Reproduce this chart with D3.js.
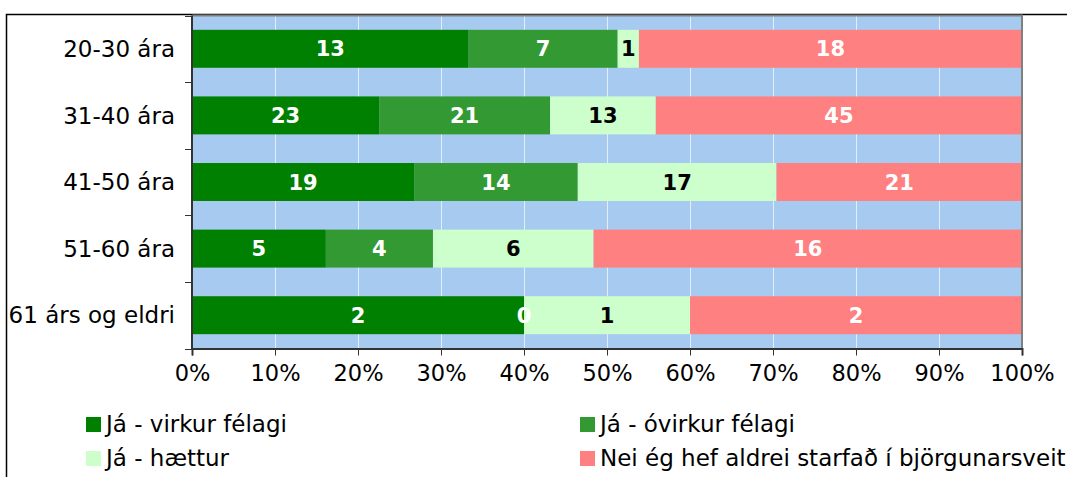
<!DOCTYPE html>
<html>
<head>
<meta charset="utf-8">
<script src="https://cdn.jsdelivr.net/npm/d3@7"></script>
<style>
  body { margin: 0; background: #fff; }
  text { font-family: "DejaVu Sans", Verdana, sans-serif; }
</style>
</head>
<body>
<svg width="1067" height="477"></svg>
<script>

const categories = ['20-30 ára', '31-40 ára', '41-50 ára', '51-60 ára', '61 árs og eldri'];
const seriesNames = ['Já - virkur félagi', 'Já - óvirkur félagi', 'Já - hættur', 'Nei ég hef aldrei starfað í björgunarsveit'];
const virkur = [13, 23, 19, 5, 2];
const ovirkur = [7, 21, 14, 4, 0];
const haettur = [1, 13, 17, 6, 1];
const nei = [18, 45, 21, 16, 2];
const tickLabels = ['0%', '10%', '20%', '30%', '40%', '50%', '60%', '70%', '80%', '90%', '100%'];

const COLORS = ['#008000', '#339933', '#ccffcc', '#ff8080'];
const LABEL_COLORS = ['#fff', '#fff', '#000', '#fff'];

const PLOT = { left: 192, right: 1022, top: 15.5, bottom: 348.5 };

const svg = d3.select('svg');

// rows of the table, one per category
const rows = categories.map((c, i) => {
	const vals = [virkur[i], ovirkur[i], haettur[i], nei[i]];
	const total = d3.sum(vals);
	let acc = 0;
	const segs = vals.map((v, k) => {
		const s = { key: k, value: v, x0: acc / total, x1: (acc + v) / total, cat: c };
		acc += v;
		return s;
	});
	return { cat: c, segs: segs };
});

const x = d3.scaleLinear().domain([0, 1]).range([PLOT.left, PLOT.right]);
const y = d3.scaleBand().domain(categories).range([PLOT.top, PLOT.bottom])
	.paddingInner(0.43).paddingOuter(0.215);

// outer frame
svg.append('path')
	.attr('d', 'M6.5,' + 477 + 'V14.5H1067')
	.attr('fill', 'none').attr('stroke', '#000').attr('stroke-width', 1.5);

// plot background
svg.append('rect')
	.attr('x', PLOT.left).attr('y', PLOT.top)
	.attr('width', PLOT.right - PLOT.left).attr('height', PLOT.bottom - PLOT.top)
	.attr('fill', '#a6caf0');

// gridlines
svg.append('g').selectAll('line')
	.data(d3.range(1, 10).map(d => d / 10))
	.enter().append('line')
	.attr('x1', d => Math.round(x(d)) + 0.5).attr('x2', d => Math.round(x(d)) + 0.5)
	.attr('y1', PLOT.top).attr('y2', PLOT.bottom)
	.attr('stroke', '#e4eefa').attr('stroke-width', 1);

// bars
const rowG = svg.append('g').selectAll('g')
	.data(rows).enter().append('g');

rowG.selectAll('rect')
	.data(d => d.segs)
	.enter().append('rect')
	.attr('x', d => x(d.x0))
	.attr('width', d => x(d.x1) - x(d.x0))
	.attr('y', d => y(d.cat))
	.attr('height', y.bandwidth())
	.attr('fill', d => COLORS[d.key]);

rowG.selectAll('text')
	.data(d => d.segs)
	.enter().append('text')
	.attr('x', d => (x(d.x0) + x(d.x1)) / 2)
	.attr('y', d => y(d.cat) + y.bandwidth() / 2)
	.attr('dy', '0.36em')
	.attr('text-anchor', 'middle')
	.attr('font-size', 21)
	.attr('font-weight', 'bold')
	.attr('fill', d => LABEL_COLORS[d.key])
	.text(d => d.value);

// plot border top/right
svg.append('path')
	.attr('d', 'M' + PLOT.left + ',' + (PLOT.top) + 'H' + PLOT.right + 'V' + PLOT.bottom)
	.attr('fill', 'none').attr('stroke', '#808080').attr('stroke-width', 2);

// x axis
const xAxis = d3.axisBottom(x)
	.tickValues(d3.range(0, 11).map(d => d / 10))
	.tickFormat((d, i) => tickLabels[i])
	.tickSize(7).tickPadding(10);

const gx = svg.append('g')
	.attr('transform', 'translate(0,' + PLOT.bottom + ')')
	.call(xAxis);
gx.select('.domain').attr('stroke', '#333').attr('stroke-width', 2);
gx.selectAll('.tick line').attr('stroke', '#333');
gx.selectAll('.tick text')
	.attr('font-size', 22.5).attr('fill', '#000')
	.style('font-family', '"DejaVu Sans", Verdana, sans-serif');

// y axis
svg.append('line')
	.attr('x1', PLOT.left).attr('x2', PLOT.left)
	.attr('y1', PLOT.top).attr('y2', PLOT.bottom + 1)
	.attr('stroke', '#333').attr('stroke-width', 2);

const bounds = categories.map(c => y(c) - y.step() * y.paddingInner() / 2);
bounds.push(PLOT.bottom);
svg.append('g').selectAll('line')
	.data(bounds).enter().append('line')
	.attr('x1', PLOT.left - 7).attr('x2', PLOT.left)
	.attr('y1', d => Math.round(d) + 0.5).attr('y2', d => Math.round(d) + 0.5)
	.attr('stroke', '#333');

svg.append('g').selectAll('text')
	.data(categories).enter().append('text')
	.attr('x', 175)
	.attr('y', d => y(d) + y.bandwidth() / 2)
	.attr('dy', '0.36em')
	.attr('text-anchor', 'end')
	.attr('font-size', 23)
	.text(d => d);

// legend
const legendPos = [[86, 424], [580, 424], [86, 458], [580, 458]];
const leg = svg.append('g').selectAll('g')
	.data(seriesNames).enter().append('g')
	.attr('transform', (d, i) => 'translate(' + legendPos[i][0] + ',' + legendPos[i][1] + ')');
leg.append('rect')
	.attr('x', 0).attr('y', -7).attr('width', 15).attr('height', 15)
	.attr('fill', (d, i) => COLORS[i]);
leg.append('text')
	.attr('x', 20).attr('y', 0).attr('dy', '0.36em')
	.attr('font-size', 23)
	.text(d => d);

</script>
</body>
</html>
